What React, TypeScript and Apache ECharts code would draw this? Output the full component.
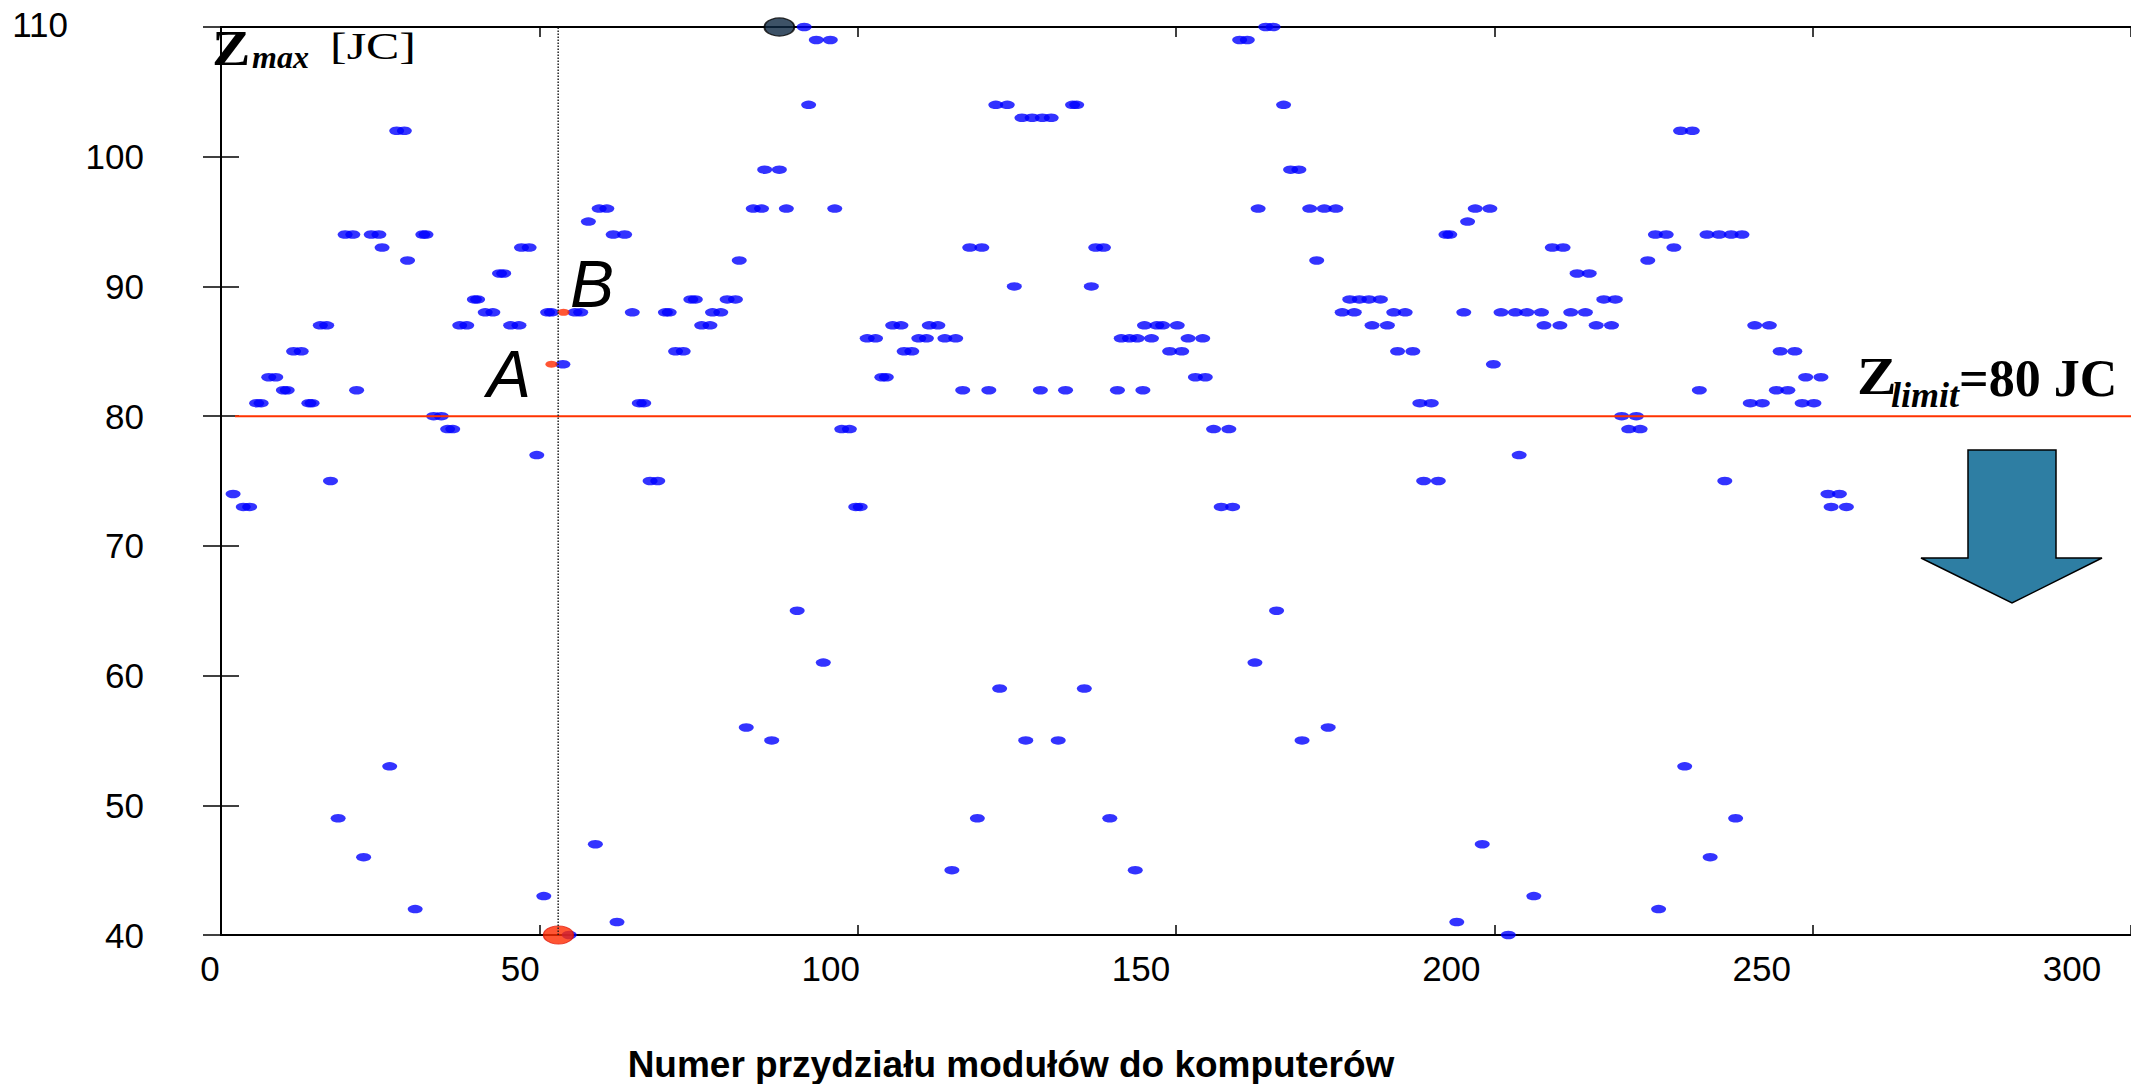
import React, { useEffect, useRef } from "react";
import * as echarts from "echarts";

const xTickLabels = [0, 50, 100, 150, 200, 250, 300];
const yTickLabels = [40, 50, 60, 70, 80, 90, 100, 110];
const zLimit = 80;
const limitStartX = 2.2;
const cursorX = 52.96;

const bluePoints: number[][] = [
  [1.9, 74], [3.5, 73], [4.5, 73], [5.6, 81], [6.3, 81], [7.5, 83], [8.6, 83], [9.8, 82], [10.4, 82],
  [11.4, 85], [12.6, 85], [13.8, 81], [14.3, 81], [15.6, 87], [16.6, 87], [17.2, 75], [18.4, 49],
  [19.5, 94], [20.7, 94], [21.3, 82], [22.4, 46], [23.6, 94], [24.8, 94], [25.3, 93], [26.5, 53],
  [27.6, 102], [28.8, 102], [29.3, 92], [30.5, 42], [31.7, 94], [32.2, 94], [33.4, 80], [34.6, 80],
  [35.6, 79], [36.4, 79],
  [37.5, 87], [38.6, 87], [39.8, 89], [40.3, 89], [41.5, 88], [42.7, 88], [43.75, 91], [44.4, 91],
  [45.5, 87], [46.8, 87], [47.2, 93], [48.4, 93], [49.6, 77], [50.7, 43], [51.3, 88], [51.9, 88],
  [53.7, 84], [55.6, 88], [56.5, 88], [54.7, 40], [57.7, 95], [58.8, 47], [59.4, 96], [60.6, 96],
  [61.6, 94], [63.4, 94], [62.2, 41], [64.6, 88], [65.7, 81], [66.4, 81], [67.4, 75], [68.6, 75],
  [69.8, 88], [70.4, 88], [71.4, 85], [72.6, 85], [73.8, 89], [74.5, 89], [75.5, 87], [76.8, 87],
  [77.2, 88], [78.5, 88],
  [79.5, 89], [80.8, 89], [81.4, 92], [83.6, 96], [84.9, 96], [85.4, 99], [87.7, 99], [88.8, 96],
  [92.3, 104], [91.6, 110], [93.5, 109], [95.7, 109], [96.4, 96], [90.5, 65], [94.6, 61], [82.5, 56],
  [86.5, 55], [97.5, 79], [98.7, 79], [99.7, 73], [100.4, 73], [101.5, 86], [102.8, 86], [103.8, 83],
  [104.5, 83], [105.5, 87], [106.8, 87], [107.3, 85], [108.5, 85], [109.6, 86], [110.8, 86],
  [111.25, 87], [112.6, 87], [113.7, 86], [115.4, 86], [114.8, 45],
  [116.5, 82], [120.6, 82], [117.6, 93], [119.5, 93], [118.8, 49], [121.7, 104], [123.5, 104],
  [125.8, 103], [127.4, 103], [129.0, 103], [130.4, 103], [133.75, 104], [134.4, 104], [124.6, 90],
  [122.3, 59], [126.4, 55], [128.7, 82], [131.5, 55], [132.65, 82], [135.6, 59], [137.4, 93],
  [138.6, 93], [136.7, 90], [139.6, 49], [140.8, 82], [143.6, 45], [144.8, 82], [141.4, 86],
  [142.7, 86], [143.9, 86], [146.15, 86], [145.05, 87], [147.0, 87], [147.9, 87], [150.2, 87],
  [149.0, 85], [150.9, 85], [151.9, 86], [154.2, 86], [153.05, 83], [154.6, 83],
  [155.9, 79], [158.3, 79], [157.1, 73], [158.9, 73], [160.0, 109], [161.2, 109], [164.1, 110],
  [165.25, 110], [166.9, 104], [168.0, 99], [169.3, 99], [162.9, 96], [171.0, 96], [173.3, 96],
  [175.1, 96], [172.1, 92], [165.8, 65], [162.4, 61], [169.8, 55], [173.9, 56], [177.3, 89],
  [178.8, 89], [180.3, 89], [182.1, 89], [176.1, 88], [178.0, 88], [180.8, 87], [183.2, 87],
  [184.2, 88], [186.0, 88], [184.8, 85], [187.2, 85], [188.3, 81], [190.1, 81], [188.9, 75],
  [191.2, 75], [192.4, 94], [193.0, 94],
  [194.1, 41], [195.2, 88], [195.8, 95], [197.0, 96], [199.3, 96], [198.1, 47], [199.85, 84],
  [202.2, 40], [203.9, 77], [201.05, 88], [203.3, 88], [205.1, 88], [207.4, 88], [207.8, 87],
  [210.3, 87], [206.2, 43], [209.1, 93], [210.8, 93], [213.0, 91], [214.9, 91], [212.0, 88],
  [214.3, 88], [216.0, 87], [218.4, 87], [217.2, 89], [219.0, 89], [220.0, 80], [222.3, 80],
  [221.1, 79], [222.9, 79], [224.1, 92], [225.3, 94], [227.0, 94], [228.2, 93], [229.25, 102],
  [231.1, 102], [229.9, 53], [225.8, 42], [232.2, 82],
  [233.4, 94], [235.3, 94], [237.2, 94], [238.9, 94], [233.9, 46], [236.2, 75], [237.9, 49],
  [240.9, 87], [243.2, 87], [244.9, 85], [247.2, 85], [240.2, 81], [242.1, 81], [244.3, 82],
  [246.1, 82], [248.9, 83], [251.3, 83], [248.35, 81], [250.2, 81], [252.4, 74], [254.2, 74],
  [252.9, 73], [255.3, 73],
];

const pointA = [51.9, 84];
const pointB = [53.8, 88];
const bestPoint = [53.0, 40];
const worstPoint = [87.7, 110];

const SERIF = "'Liberation Serif', 'DejaVu Serif', serif";
const SANS = "'Liberation Sans', Arial, sans-serif";

export default function App() {
  const ref = useRef<HTMLDivElement>(null);

  useEffect(() => {
    if (!ref.current) return;
    const chart = echarts.init(ref.current, undefined, { renderer: "svg" });

    const axisLine = { show: true, lineStyle: { color: "#000", width: 2 } };

    const option: any = {
      animation: false,
      backgroundColor: "#fff",
      grid: [
        { left: 221, top: 27, width: 1911, height: 908, containLabel: false },
        { left: 210, top: 27, width: 1862, height: 908, containLabel: false },
      ],
      xAxis: [
        {
          type: "value", gridIndex: 0, min: 0, max: 300, interval: 50, position: "bottom",
          axisLine, axisTick: { show: true, inside: true, length: 10, lineStyle: { color: "#000", width: 1.5 } },
          axisLabel: { show: false }, splitLine: { show: false },
        },
        {
          type: "value", gridIndex: 0, min: 0, max: 300, interval: 50, position: "top",
          axisLine, axisTick: { show: true, inside: true, length: 10, lineStyle: { color: "#000", width: 1.5 } },
          axisLabel: { show: false }, splitLine: { show: false },
        },
        {
          type: "value", gridIndex: 1, min: xTickLabels[0], max: xTickLabels[xTickLabels.length - 1], interval: 50,
          position: "bottom", axisLine: { show: false }, axisTick: { show: false }, splitLine: { show: false },
          axisLabel: { show: true, color: "#000", fontSize: 35, fontFamily: SANS, margin: 16 },
        },
      ],
      yAxis: [
        {
          type: "value", gridIndex: 0, min: yTickLabels[0], max: yTickLabels[yTickLabels.length - 1], interval: 10,
          axisLine, axisTick: { show: true, inside: true, length: 18, lineStyle: { color: "#000", width: 1.5 } },
          axisLabel: {
            show: true, color: "#000", fontSize: 35, fontFamily: SANS, margin: 77,
            formatter: (v: number) => (v === 110 ? `{top|${v}}` : `{n|${v}}`),
            rich: {
              n: { fontSize: 35, fontFamily: SANS, color: "#000" },
              top: { fontSize: 35, fontFamily: SANS, color: "#000", padding: [0, 76, 6, 0] },
            },
          },
          splitLine: { show: false },
        },
        {
          type: "value", gridIndex: 0, min: 40, max: 110, interval: 10, position: "right",
          axisLine, axisTick: { show: true, inside: true, length: 18, lineStyle: { color: "#000", width: 1.5 } },
          axisLabel: { show: false }, splitLine: { show: false },
        },
        { type: "value", gridIndex: 1, min: 40, max: 110, show: false },
      ],
      series: [
        {
          type: "line", xAxisIndex: 0, yAxisIndex: 0, data: [[limitStartX, zLimit], [300, zLimit]],
          symbol: "none", lineStyle: { color: "#ff3300", width: 2 }, silent: true,
        },
        {
          type: "line", xAxisIndex: 0, yAxisIndex: 0, data: [[cursorX, 40], [cursorX, 110]],
          symbol: "none", lineStyle: { color: "#222", width: 1.5, type: "dotted" }, silent: true,
        },
        {
          type: "scatter", xAxisIndex: 0, yAxisIndex: 0, data: bluePoints, clip: false,
          symbol: "circle", symbolSize: [15, 8.5], itemStyle: { color: "#0000ff" },
        },
        {
          type: "scatter", xAxisIndex: 0, yAxisIndex: 0, data: [pointA, pointB], clip: false,
          symbol: "circle", symbolSize: [12, 7], itemStyle: { color: "#ff2a00" },
        },
        {
          type: "scatter", xAxisIndex: 0, yAxisIndex: 0, data: [bestPoint], clip: false,
          symbol: "circle", symbolSize: [30, 18], itemStyle: { color: "#ff2a00", borderColor: "#e01000", borderWidth: 1 },
        },
        {
          type: "scatter", xAxisIndex: 0, yAxisIndex: 0, data: [worstPoint], clip: false,
          symbol: "circle", symbolSize: [30, 18], itemStyle: { color: "#0d2741", borderColor: "#000", borderWidth: 1.5 },
        },
      ],
      graphic: [
        { type: "text", x: 487, y: 374, style: { text: "A", fill: "#000", font: `italic 66px ${SANS}`, textAlign: "left", textVerticalAlign: "middle" } },
        { type: "text", x: 570, y: 284, style: { text: "B", fill: "#000", font: `italic 66px ${SANS}`, textAlign: "left", textVerticalAlign: "middle" } },
        { type: "text", x: 212, y: 48, scaleX: 1.15, style: { text: "Z", fill: "#000", font: `bold 50px ${SERIF}`, textAlign: "left", textVerticalAlign: "middle" } },
        { type: "text", x: 252, y: 57, style: { text: "max", fill: "#000", font: `italic bold 32px ${SERIF}`, textAlign: "left", textVerticalAlign: "middle" } },
        { type: "text", x: 330, y: 47, scaleX: 1.35, style: { text: "[JC]", fill: "#000", font: `37px ${SERIF}`, textAlign: "left", textVerticalAlign: "middle" } },
        { type: "text", x: 1857, y: 376, scaleX: 1.12, style: { text: "Z", fill: "#000", font: `bold 53px ${SERIF}`, textAlign: "left", textVerticalAlign: "middle" } },
        { type: "text", x: 1891, y: 395, style: { text: "limit", fill: "#000", font: `italic bold 36px ${SERIF}`, textAlign: "left", textVerticalAlign: "middle" } },
        { type: "text", x: 1959, y: 378, style: { text: "=80 JC", fill: "#000", font: `bold 52px ${SERIF}`, textAlign: "left", textVerticalAlign: "middle" } },
        {
          type: "text", x: 1011, y: 1064,
          style: { text: "Numer przydziału modułów do komputerów", fill: "#000", font: `bold 37px ${SANS}`, textAlign: "center", textVerticalAlign: "middle" },
        },
        {
          type: "polygon",
          shape: { points: [[1968, 450], [2056, 450], [2056, 558], [2102, 558], [2012, 603], [1921, 558], [1968, 558]] },
          style: { fill: "#2e7ea3", stroke: "#000", lineWidth: 1.5 },
        },
      ],
    };

    chart.setOption(option);
    return () => chart.dispose();
  }, []);

  return (
    <div
      ref={ref}
      style={{ position: "fixed", left: 0, top: 0, width: 2131, height: 1084, background: "#fff" }}
    />
  );
}
